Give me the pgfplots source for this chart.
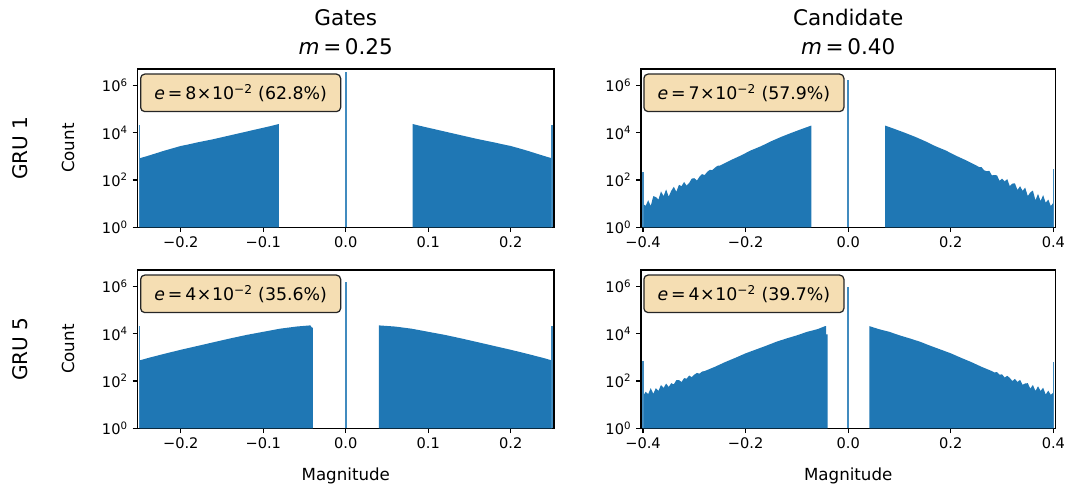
\documentclass[border=0pt]{standalone}
\usepackage{pgfplots}
\pgfplotsset{compat=1.18}
\usepackage{fontspec}
\setmainfont{DejaVu Sans}
\definecolor{mplblue}{HTML}{1F77B4}
\definecolor{wheat}{HTML}{F5DEB3}
\newcommand{\etext}[2]{\textit{e}\,=\,#1\kern0.4pt×\kern0.4pt10\textsuperscript{−2} (#2\%)}
\tikzset{
  ebox/.style={draw=black!85, fill=wheat, line width=0.9pt, rounded corners=3pt, anchor=north west,
    minimum width=144pt, minimum height=27pt, inner sep=0pt, font=\fontsize{12.5}{15}\selectfont},
  grulab/.style={rotate=90, anchor=center, font=\fontsize{14.5}{17}\selectfont},
}
\pgfplotsset{
  histax/.style={
    scale only axis, height=114pt, ymin=1, ymax=4.9e6,
    ytick={1,100,10000,1000000},
    yticklabels={10\textsuperscript{0},10\textsuperscript{2},10\textsuperscript{4},10\textsuperscript{6}},
    yminorticks=false,
    axis line style={line width=0.8pt},
    tick align=outside, tick pos=left,
    major tick length=3.5pt,
    every tick/.style={black, line width=0.8pt},
    tick label style={font=\fontsize{10.5}{12}\selectfont},
    label style={font=\fontsize{12}{14}\selectfont},
    title style={font=\fontsize{15.5}{21}\selectfont, align=center, yshift=0.5pt},
    clip=false,
  },
  gatesx/.style={width=299.9pt, xmin=-0.2525, xmax=0.2525,
    xtick={-0.2,-0.1,0,0.1,0.2}, xticklabels={−0.2,−0.1,0.0,0.1,0.2}},
  candx/.style={width=298.4pt, xmin=-0.404, xmax=0.404,
    xtick={-0.4,-0.2,0,0.2,0.4}, xticklabels={−0.4,−0.2,0.0,0.2,0.4}},
  blk/.style={fill=mplblue, draw=none},
  spk/.style={mplblue!85!white, line width=1.2pt},
}
\begin{document}
\begin{tikzpicture}
\path[use as bounding box] (0,0) rectangle (771.1pt,-350.6pt);

% ---------------- GRU 1 / Gates ----------------
\begin{semilogyaxis}[histax, gatesx, at={(99pt,-49.7pt)}, anchor=north west,
  title={Gates\\\textit{m}\,=\,0.25},
  ylabel={Count}, ylabel style={at={(axis description cs:-0.167,0.5)}, anchor=center}]
\addplot[blk] coordinates {(-0.25,1) (-0.25,830) (-0.24,1050) (-0.23,1350) (-0.22,1740) (-0.21,2190) (-0.20,2750) (-0.19,3240) (-0.18,3890) (-0.17,4570) (-0.16,5370) (-0.15,6460) (-0.14,7760) (-0.13,9330) (-0.12,11200) (-0.11,13500) (-0.10,16200) (-0.09,19500) (-0.081,23400) (-0.081,1)} -- cycle;
\addplot[blk] coordinates {(0.081,1) (0.081,23400) (0.09,19500) (0.10,16200) (0.11,13500) (0.12,11200) (0.13,9330) (0.14,7760) (0.15,6460) (0.16,5370) (0.17,4570) (0.18,3890) (0.19,3240) (0.20,2750) (0.21,2190) (0.22,1740) (0.23,1350) (0.24,1050) (0.25,830) (0.25,1)} -- cycle;
\addplot[spk] coordinates {(-0.25,1) (-0.25,21000)};
\addplot[spk] coordinates {(0,1) (0,3600000)};
\addplot[spk] coordinates {(0.25,1) (0.25,21000)};
\node[ebox] at (axis description cs:0.006,0.972) {\etext{8}{62.8}};
\node[grulab] at (axis description cs:-0.282,0.5) {GRU 1};
\end{semilogyaxis}

% ---------------- GRU 1 / Candidate ----------------
\begin{semilogyaxis}[histax, candx, at={(461.5pt,-49.7pt)}, anchor=north west,
  title={Candidate\\\textit{m}\,=\,0.40}]
\addplot[blk] coordinates {(-0.40,1) (-0.40,10) (-0.395,8) (-0.39,14) (-0.385,8) (-0.38,21) (-0.375,19) (-0.37,15) (-0.365,33) (-0.36,21) (-0.355,40) (-0.35,20) (-0.345,35) (-0.34,52) (-0.335,32) (-0.33,63) (-0.325,55) (-0.32,83) (-0.315,58) (-0.31,76) (-0.305,115) (-0.30,120) (-0.295,95) (-0.29,138) (-0.285,178) (-0.28,162) (-0.275,219) (-0.27,269) (-0.265,263) (-0.26,331) (-0.255,398) (-0.25,410) (-0.23,676) (-0.21,1070) (-0.19,1780) (-0.17,2690) (-0.15,4370) (-0.13,6760) (-0.11,10000) (-0.09,14500) (-0.072,20000) (-0.072,1)} -- cycle;
\addplot[blk] coordinates {(0.072,1) (0.072,20000) (0.09,14500) (0.11,10000) (0.13,6760) (0.15,4370) (0.17,2690) (0.19,1780) (0.21,1070) (0.23,676) (0.25,410) (0.255,355) (0.26,347) (0.265,257) (0.27,234) (0.275,245) (0.28,158) (0.285,162) (0.29,158) (0.295,93) (0.30,115) (0.305,87) (0.31,110) (0.315,55) (0.32,71) (0.325,72) (0.33,38) (0.335,55) (0.34,35) (0.345,48) (0.35,21) (0.355,30) (0.36,36) (0.365,14) (0.37,26) (0.375,13) (0.38,23) (0.385,11) (0.39,15) (0.395,8) (0.40,11) (0.40,1)} -- cycle;
\addplot[spk] coordinates {(-0.4,1) (-0.4,225)};
\addplot[spk] coordinates {(0,1) (0,1660000)};
\addplot[spk] coordinates {(0.4,1) (0.4,295)};
\node[ebox] at (axis description cs:0.0055,0.972) {\etext{7}{57.9}};
\end{semilogyaxis}

% ---------------- GRU 5 / Gates ----------------
\begin{semilogyaxis}[histax, gatesx, at={(99pt,-194.4pt)}, anchor=north west,
  xlabel={Magnitude}, xlabel style={at={(axis description cs:0.5,-0.301)}, anchor=center},
  ylabel={Count}, ylabel style={at={(axis description cs:-0.167,0.5)}, anchor=center}]
\addplot[blk] coordinates {(-0.25,1) (-0.25,741) (-0.24,933) (-0.22,1410) (-0.20,2090) (-0.18,3020) (-0.16,4370) (-0.14,6310) (-0.12,8910) (-0.10,12000) (-0.08,16200) (-0.06,20000) (-0.043,22400) (-0.041,18000) (-0.04,18000) (-0.04,1)} -- cycle;
\addplot[blk] coordinates {(0.04,1) (0.04,22400) (0.06,20000) (0.08,16200) (0.10,12000) (0.12,8910) (0.14,6310) (0.16,4370) (0.18,3020) (0.20,2090) (0.22,1410) (0.24,933) (0.25,741) (0.25,1)} -- cycle;
\addplot[spk] coordinates {(-0.25,1) (-0.25,21000)};
\addplot[spk] coordinates {(0,1) (0,1480000)};
\addplot[spk] coordinates {(0.25,1) (0.25,21000)};
\node[ebox] at (axis description cs:0.006,0.972) {\etext{4}{35.6}};
\node[grulab] at (axis description cs:-0.282,0.5) {GRU 5};
\end{semilogyaxis}

% ---------------- GRU 5 / Candidate ----------------
\begin{semilogyaxis}[histax, candx, at={(461.5pt,-194.4pt)}, anchor=north west,
  xlabel={Magnitude}, xlabel style={at={(axis description cs:0.5,-0.301)}, anchor=center}]
\addplot[blk] coordinates {(-0.40,1) (-0.40,23) (-0.395,35) (-0.39,28) (-0.385,50) (-0.38,29) (-0.375,50) (-0.37,38) (-0.365,68) (-0.36,51) (-0.355,78) (-0.35,56) (-0.345,81) (-0.34,72) (-0.335,110) (-0.33,110) (-0.325,91) (-0.32,132) (-0.315,126) (-0.31,170) (-0.305,145) (-0.30,186) (-0.295,219) (-0.29,204) (-0.285,251) (-0.28,263) (-0.26,398) (-0.24,631) (-0.22,955) (-0.20,1480) (-0.18,2140) (-0.16,3090) (-0.14,4570) (-0.12,6310) (-0.10,8510) (-0.08,12000) (-0.06,15500) (-0.045,20900) (-0.043,20900) (-0.043,9330) (-0.040,9330) (-0.040,1)} -- cycle;
\addplot[blk] coordinates {(0.041,1) (0.041,20900) (0.06,15500) (0.08,12000) (0.10,8510) (0.12,6310) (0.14,4570) (0.16,3090) (0.18,2140) (0.20,1480) (0.22,955) (0.24,631) (0.26,398) (0.28,263) (0.285,229) (0.29,240) (0.295,186) (0.30,191) (0.305,141) (0.31,166) (0.315,135) (0.32,100) (0.325,123) (0.33,91) (0.335,112) (0.34,69) (0.345,79) (0.35,81) (0.355,48) (0.36,68) (0.365,38) (0.37,60) (0.375,38) (0.38,52) (0.385,27) (0.39,39) (0.395,26) (0.40,33) (0.40,1)} -- cycle;
\addplot[spk] coordinates {(-0.4,1) (-0.4,730)};
\addplot[spk] coordinates {(0,1) (0,910000)};
\addplot[spk] coordinates {(0.4,1) (0.4,650)};
\node[ebox] at (axis description cs:0.0055,0.972) {\etext{4}{39.7}};
\end{semilogyaxis}
\end{tikzpicture}
\end{document}
